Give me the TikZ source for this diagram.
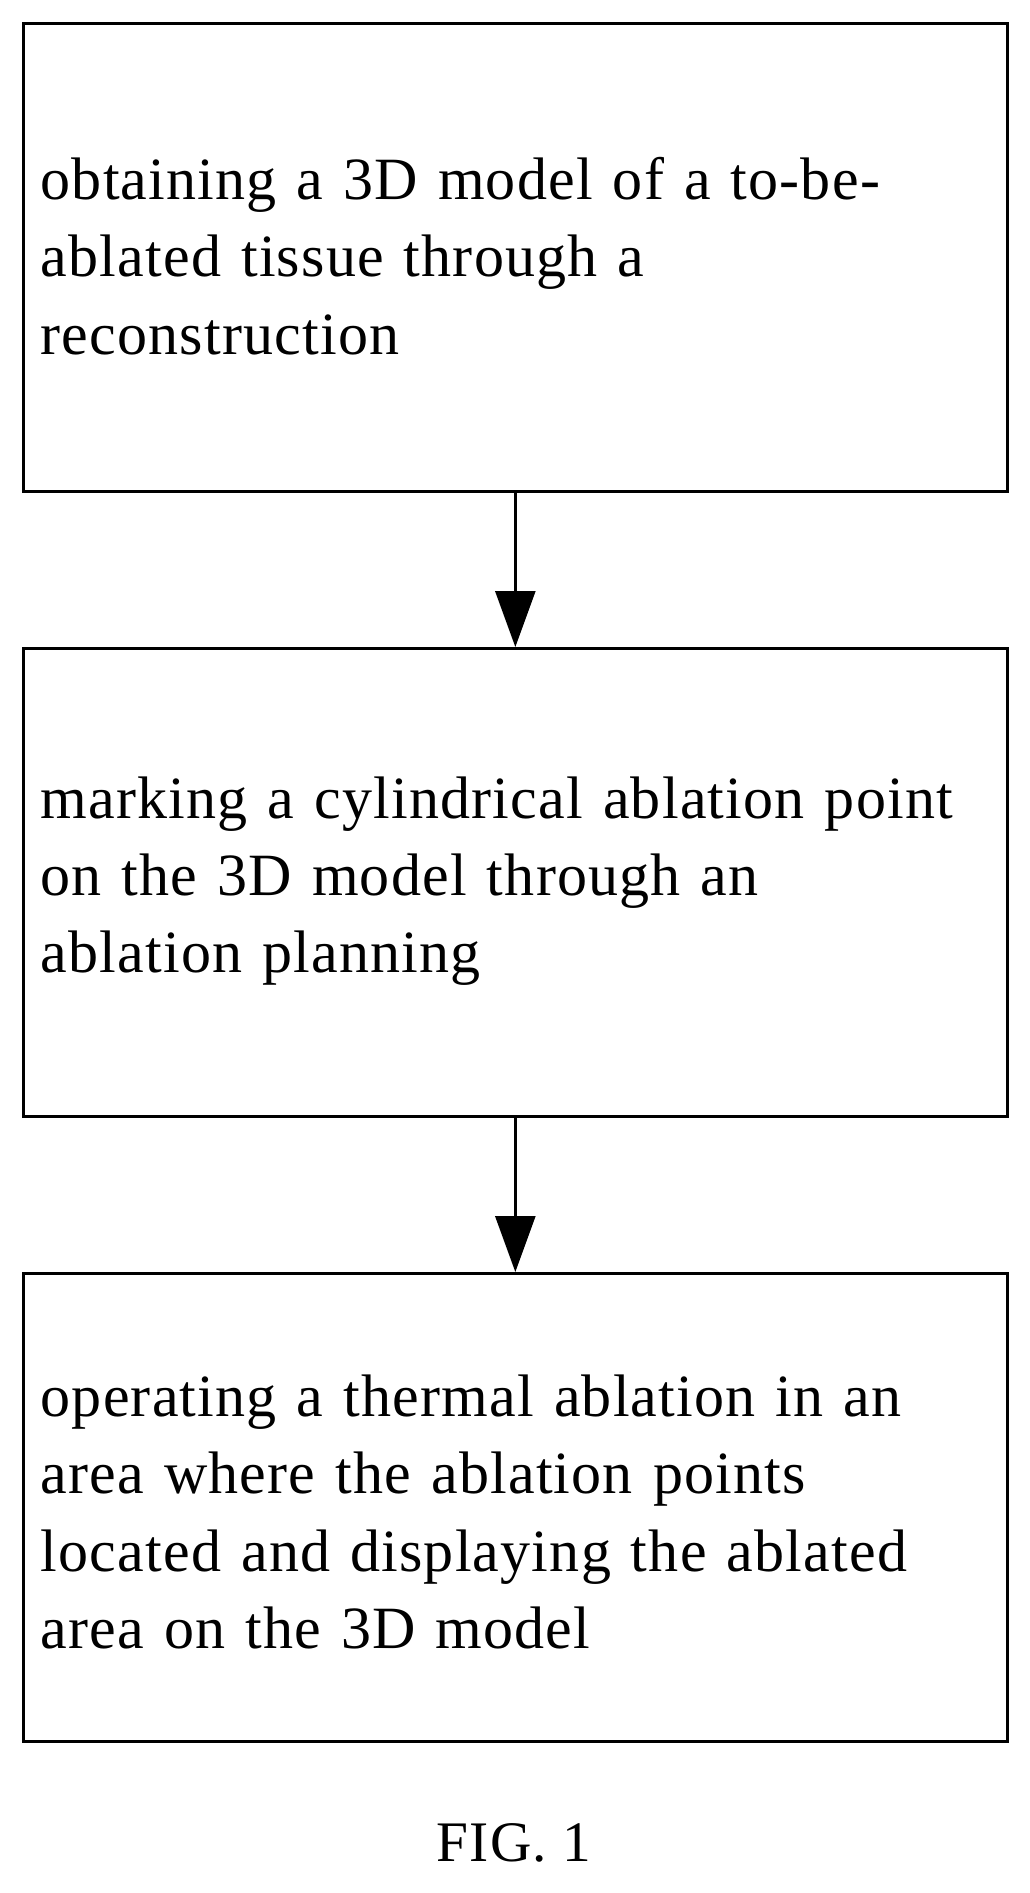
\documentclass[tikz,border=0pt]{standalone}
\usepackage{fontspec}
\setmainfont{Liberation Serif}[LetterSpace=2]
\usetikzlibrary{arrows.meta}
\begin{document}
\begin{tikzpicture}[x=0.75pt,y=-0.75pt,
  stepbox/.style={draw,line width=2pt,minimum width=984*0.75pt,minimum height=468*0.75pt,anchor=north west,inner sep=0pt},
  txt/.style={anchor=west,align=left,text width=980*0.75pt,font=\fontsize{45}{58}\selectfont},
  arr/.style={line width=2pt,-{Triangle[length=56*0.75pt,width=40*0.75pt]}}]
\useasboundingbox (0,0) rectangle (1030,1893);
\node[stepbox] (b1) at (22,22) {};
\node[stepbox] (b2) at (22,647) {};
\node[stepbox] (b3) at (22,1272) {};
\node[txt] (t1) at (36,256) {obtaining a 3D model of a to-be-\\ablated tissue through a\\reconstruction};
\node[txt] (t2) at (36,881) {marking a cylindrical ablation point\\on the 3D model through an\\ablation planning};
\node[txt] (t3) at (36,1512) {operating a thermal ablation in an\\area where the ablation points\\located and displaying the ablated\\area on the 3D model};
\draw[arr] (b1.south) -- (b2.north);
\draw[arr] (b2.south) -- (b3.north);
\node[font=\fontsize{43}{46}\selectfont] (fig) at (514,1843) {FIG. 1};
\end{tikzpicture}
\end{document}
